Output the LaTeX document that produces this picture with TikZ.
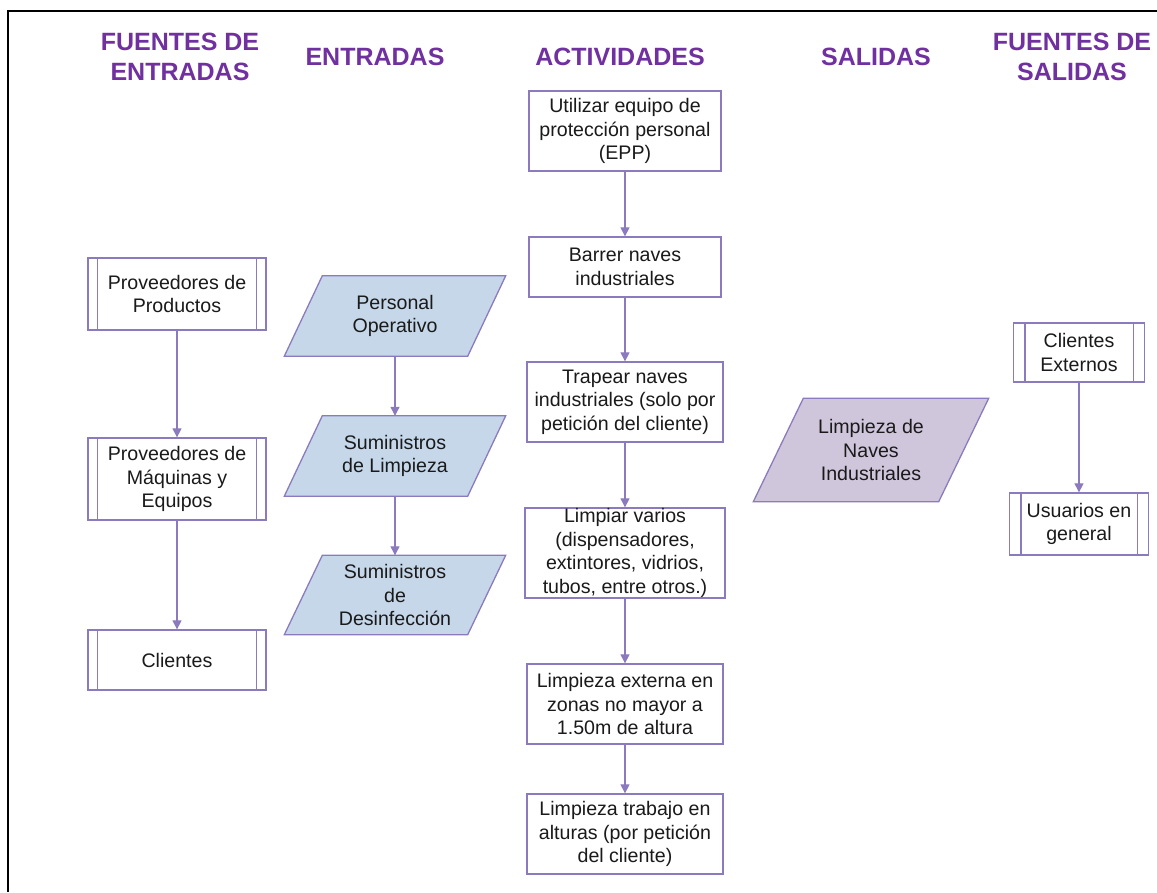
\documentclass[tikz,border=0pt]{standalone}
\usepackage{fontspec}
\setmainfont{Liberation Sans}
\usetikzlibrary{calc,backgrounds,arrows.meta}
\definecolor{hdr}{HTML}{7030A0}
\definecolor{bord}{HTML}{8B7BBE}
\definecolor{bluef}{HTML}{C5D7E9}
\definecolor{lavf}{HTML}{CFC6DC}
\definecolor{txt}{HTML}{1A1A1A}
\newcommand\pdlines[2]{\draw[bord,line width=1.3pt] ($(#1.north west)+(#2,0)$) -- ($(#1.south west)+(#2,0)$) ($(#1.north east)-(#2,0)$) -- ($(#1.south east)-(#2,0)$);}
\newcommand\parashape[3]{\begin{scope}[on background layer]\filldraw[fill=#3,draw=bord,line width=1.3pt] ($(#1.north west)+(#2,0)$) -- ($(#1.north east)+(#2,0)$) -- ($(#1.south east)-(#2,0)$) -- ($(#1.south west)-(#2,0)$) -- cycle;\end{scope}}
\begin{document}
\begin{tikzpicture}[x=1pt,y=-1pt,
  hdrtext/.style={text=hdr,font=\fontsize{25}{30}\selectfont\bfseries,align=center,inner sep=0pt},
  box/.style={draw=bord,line width=1.3pt,fill=white,text=txt,font=\fontsize{19.6}{23.5}\selectfont,align=center,inner sep=0pt},
  paratext/.style={text=txt,font=\fontsize{19.6}{23.5}\selectfont,align=center,inner sep=0pt},
  arr/.style={draw=bord,line width=1.1pt,-{Triangle[length=9pt,width=9pt]}}
]
\useasboundingbox (0,0) rectangle (1157,892);
\draw[black,line width=1.5pt] (1157,11) -- (8,11) -- (8,892);

% headers
\node[hdrtext] (h1) at (180,57) {FUENTES DE\\ENTRADAS};
\node[hdrtext] (h2) at (375,57) {ENTRADAS};
\node[hdrtext] (h3) at (620,57) {ACTIVIDADES};
\node[hdrtext] (h4) at (876,57) {SALIDAS};
\node[hdrtext] (h5) at (1072,57) {FUENTES DE\\SALIDAS};

% fuentes de entradas
\node[box,minimum width=178,minimum height=72] (pp) at (177,294) {Proveedores de\\Productos};
\pdlines{pp}{10}
\node[box,minimum width=178,minimum height=82] (pm) at (177,479) {Proveedores de\\Máquinas y\\Equipos};
\pdlines{pm}{10}
\node[box,minimum width=178,minimum height=60] (cl) at (177,660) {Clientes};
\pdlines{cl}{10}

% entradas
\node[paratext,minimum width=183,minimum height=80] (po) at (395,316) {Personal\\Operativo};
\parashape{po}{19}{bluef}
\node[paratext,minimum width=183,minimum height=80] (sl) at (395,456) {Suministros\\de Limpieza};
\parashape{sl}{19}{bluef}
\node[paratext,minimum width=183,minimum height=79] (sd) at (395,595) {Suministros\\de\\Desinfección};
\parashape{sd}{19}{bluef}

% actividades
\node[box,minimum width=192,minimum height=80] (a1) at (625,131) {Utilizar equipo de\\protección personal\\(EPP)};
\node[box,minimum width=192,minimum height=60] (a2) at (625,267) {Barrer naves\\industriales};
\node[box,minimum width=196,minimum height=80] (a3) at (625,402) {Trapear naves\\industriales (solo por\\petición del cliente)};
\node[box,minimum width=200,minimum height=90] (a4) at (625,553) {Limpiar varios\\(dispensadores,\\extintores, vidrios,\\tubos, entre otros.)};
\node[box,minimum width=196,minimum height=80] (a5) at (625,704) {Limpieza externa en\\zonas no mayor a\\1.50m de altura};
\node[box,minimum width=196,minimum height=80] (a6) at (625,834) {Limpieza trabajo en\\alturas (por petición\\del cliente)};

% salidas
\node[paratext,minimum width=185,minimum height=103] (sa) at (871,450) {Limpieza de\\Naves\\Industriales};
\parashape{sa}{25}{lavf}

% fuentes de salidas
\node[box,minimum width=131,minimum height=59] (ce) at (1079,352.5) {Clientes\\Externos};
\pdlines{ce}{12}
\node[box,minimum width=139,minimum height=62] (ug) at (1079,524) {Usuarios en\\general};
\pdlines{ug}{12}

% connectors
\draw[arr] (pp) -- (pm);
\draw[arr] (pm) -- (cl);
\draw[arr] (po) -- (sl);
\draw[arr] (sl) -- (sd);
\draw[arr] (a1) -- (a2);
\draw[arr] (a2) -- (a3);
\draw[arr] (a3) -- (a4);
\draw[arr] (a4) -- (a5);
\draw[arr] (a5) -- (a6);
\draw[arr] (ce) -- (ug);
\end{tikzpicture}
\end{document}
